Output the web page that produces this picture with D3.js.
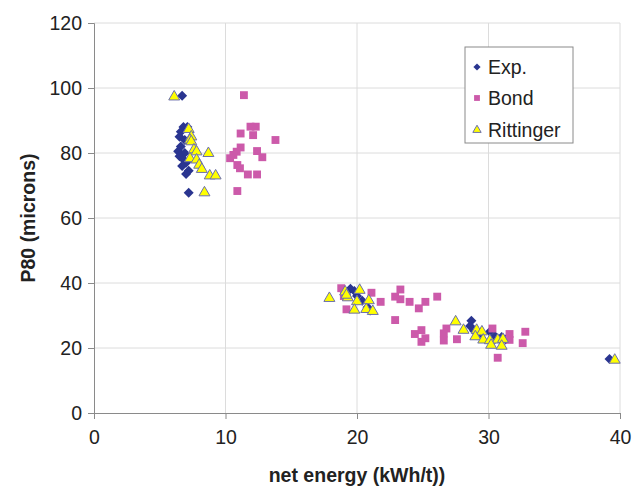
<!DOCTYPE html>
<html>
<head>
<meta charset="utf-8">
<script src="https://cdn.jsdelivr.net/npm/d3@7"></script>
<style>
  body { margin: 0; background: #fff; }
  text { font-family: "Liberation Sans", Arial, sans-serif; fill: #222; }
</style>
</head>
<body>
<div class="canvas"></div>
<script>
// data: [net energy, P80]
const expData = [
	[6.7, 97.6], [6.8, 88], [7.1, 88], [6.6, 86.5], [6.5, 85], [6.9, 84], [6.6, 82],
	[6.4, 80.5], [6.9, 80], [6.5, 79], [6.8, 78], [7.0, 77], [6.7, 76], [7.2, 74.5],
	[7.0, 73.5], [7.2, 67.8],
	[19.5, 38.2], [19.8, 37.5], [20.0, 36], [20.4, 34.5], [20.8, 32.5], [21.0, 31.5],
	[28.7, 28.4], [28.6, 26.8], [28.9, 25.3], [29.4, 24.6], [30.1, 25], [30.5, 23.6],
	[31.0, 23.4], [31.3, 22.6],
	[39.2, 16.6]
];
const bondData = [
	[11.4, 97.8], [11.9, 88.1], [12.3, 88.1], [11.15, 86], [12.1, 85.5], [13.8, 84],
	[11.15, 81.7], [10.85, 80.4], [10.6, 79.4], [10.35, 78.4], [12.4, 80.6], [12.8, 78.7],
	[10.9, 76.3], [11.1, 75.3], [11.7, 73.4], [12.4, 73.4], [10.9, 68.3],
	[18.8, 38.4], [19.0, 36], [19.2, 31.9], [21.1, 37], [21.8, 34.2], [23.3, 38],
	[22.9, 35.8], [23.3, 35], [24.0, 34.2], [24.7, 32.2], [25.2, 34.2], [26.1, 35.8],
	[22.9, 28.6], [24.4, 24.3], [24.9, 25.5], [25.2, 23], [24.9, 21.9],
	[26.8, 26], [26.6, 24.5], [26.6, 22.3], [27.6, 22.7], [30.3, 26], [31.6, 24.3],
	[32.8, 25], [32.6, 21.5], [30.7, 17], [31.6, 22.5]
];
const rittData = [
	[6.1, 97.3], [7.2, 87.3], [7.4, 85], [7.3, 84], [7.4, 83.5], [7.6, 81], [7.8, 80.4],
	[8.7, 79.9], [7.3, 78.3], [7.8, 77.9], [8.0, 76.3], [8.2, 75], [8.8, 73], [9.25, 73],
	[8.4, 67.8],
	[17.9, 35.3], [19.1, 37.3], [20.2, 37.8], [19.3, 35.5], [19.2, 36.3], [20.0, 34.3],
	[20.9, 34.6], [19.8, 31.7], [20.7, 31.9], [21.2, 31.3],
	[27.5, 28.1], [28.1, 25.5], [29.1, 25.5], [29.5, 25], [29.0, 23.5], [29.6, 22.5],
	[30.1, 22.3], [30.7, 22.5], [31.1, 22.7], [31.0, 20.6], [30.2, 20.9],
	[39.6, 16.3]
];
const xTicks = [0, 10, 20, 30, 40];
const yTicks = [0, 20, 40, 60, 80, 100, 120];
const seriesNames = ['Exp.', 'Bond', 'Rittinger'];

const width = 633, height = 488;
const margins = {top: 23, right: 13, bottom: 75, left: 94};
const graphWidth = width - margins.left - margins.right;
const graphHeight = height - margins.top - margins.bottom;
const fontSize = 19.5;

const svg = d3.select('.canvas').append('svg')
	.attr('width', width)
	.attr('height', height);

const graph = svg.append('g')
	.attr('transform', `translate(${margins.left}, ${margins.top})`);

const x = d3.scaleLinear().domain([0, 40]).range([0, graphWidth]);
const y = d3.scaleLinear().domain([0, 120]).range([graphHeight, 0]);

// gridlines
graph.append('g').selectAll('line.h')
	.data(yTicks.slice(1))
	.enter().append('line')
	.attr('x1', 0).attr('x2', graphWidth)
	.attr('y1', d => y(d)).attr('y2', d => y(d))
	.attr('stroke', '#dcdcdc');
graph.append('g').selectAll('line.v')
	.data(xTicks.slice(1))
	.enter().append('line')
	.attr('y1', 0).attr('y2', graphHeight)
	.attr('x1', d => x(d)).attr('x2', d => x(d))
	.attr('stroke', '#dcdcdc');

// axes
const xAxisGroup = graph.append('g')
	.attr('transform', `translate(0, ${graphHeight})`)
	.call(d3.axisBottom(x).tickValues(xTicks).tickSize(6).tickPadding(11));
const yAxisGroup = graph.append('g')
	.call(d3.axisLeft(y).tickValues(yTicks).tickSize(6).tickPadding(6));

[xAxisGroup, yAxisGroup].forEach(g => {
	g.select('.domain').attr('stroke', '#8a8a8a');
	g.selectAll('.tick line').attr('stroke', '#8a8a8a');
	g.selectAll('text')
		.attr('font-size', fontSize)
		.attr('font-family', '"Liberation Sans", Arial, sans-serif')
		.attr('fill', '#222');
});

// markers
const diamond = d3.symbol().type(d3.symbolSquare).size(50);
const square = d3.symbol().type(d3.symbolSquare).size(62);
const triangle = d3.symbol().type(d3.symbolTriangle).size(52);

graph.append('g').selectAll('path')
	.data(expData)
	.enter().append('path')
	.attr('d', diamond)
	.attr('transform', d => `translate(${x(d[0])}, ${y(d[1])}) rotate(45)`)
	.attr('fill', '#2a3590');

graph.append('g').selectAll('path')
	.data(bondData)
	.enter().append('path')
	.attr('d', square)
	.attr('transform', d => `translate(${x(d[0])}, ${y(d[1])})`)
	.attr('fill', '#cc5aaa');

graph.append('g').selectAll('path')
	.data(rittData)
	.enter().append('path')
	.attr('d', triangle)
	.attr('transform', d => `translate(${x(d[0])}, ${y(d[1])})`)
	.attr('fill', '#ffff00')
	.attr('stroke', '#6b6fae')
	.attr('stroke-width', 1);

// axis titles
svg.append('text')
	.attr('x', margins.left + x(20))
	.attr('y', 482)
	.attr('text-anchor', 'middle')
	.attr('font-size', fontSize)
	.attr('font-weight', 'bold')
	.text('net energy (kWh/t))');

svg.append('text')
	.attr('transform', `translate(35, ${margins.top + graphHeight / 2}) rotate(-90)`)
	.attr('text-anchor', 'middle')
	.attr('font-size', fontSize)
	.attr('font-weight', 'bold')
	.text('P80 (microns)');

// legend
const legend = svg.append('g').attr('transform', 'translate(465, 47)');
legend.append('rect')
	.attr('width', 108).attr('height', 96)
	.attr('fill', '#fff')
	.attr('stroke', '#8a8a8a');

const legendSymbols = [
	{d: d3.symbol().type(d3.symbolSquare).size(26)(), rot: 45, fill: '#2a3590', stroke: 'none'},
	{d: d3.symbol().type(d3.symbolSquare).size(34)(), rot: 0, fill: '#cc5aaa', stroke: 'none'},
	{d: d3.symbol().type(d3.symbolTriangle).size(30)(), rot: 0, fill: '#ffff00', stroke: '#6b6fae'}
];
const rowY = [20, 51, 83];

seriesNames.forEach((name, i) => {
	legend.append('path')
		.attr('d', legendSymbols[i].d)
		.attr('transform', `translate(12, ${rowY[i]}) rotate(${legendSymbols[i].rot})`)
		.attr('fill', legendSymbols[i].fill)
		.attr('stroke', legendSymbols[i].stroke);
	legend.append('text')
		.attr('x', 23)
		.attr('y', rowY[i] + 7)
		.attr('font-size', fontSize)
		.text(name);
});
</script>
</body>
</html>
